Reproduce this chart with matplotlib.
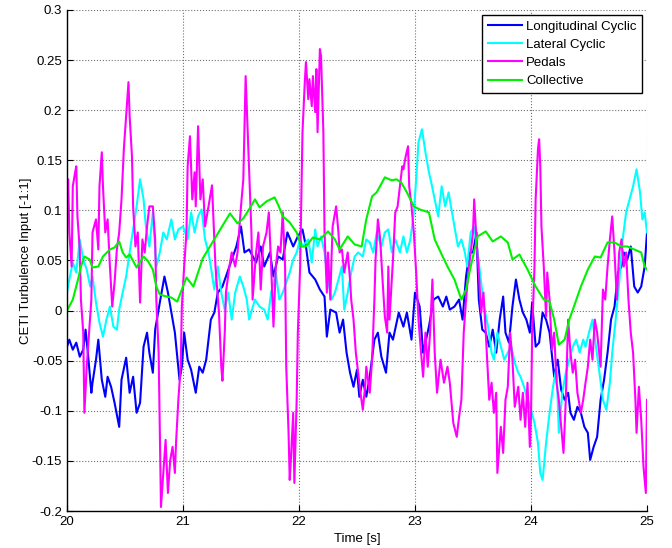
import numpy as np
import matplotlib
matplotlib.use('Agg')
import matplotlib.pyplot as plt
from matplotlib.ticker import FormatStrFormatter

plt.rcParams['font.family'] = ['Liberation Sans', 'DejaVu Sans']
plt.rcParams['font.size'] = 9.5

# Longitudinal cyclic (blue)
lon_t = [20.00, 20.02, 20.05, 20.08, 20.11, 20.14, 20.16, 20.18, 20.21, 20.22,
         20.25, 20.27, 20.30, 20.33, 20.35, 20.38, 20.41, 20.45, 20.47, 20.51,
         20.54, 20.57, 20.60, 20.63, 20.66, 20.69, 20.71, 20.74, 20.76, 20.80,
         20.84, 20.87, 20.90, 20.93, 20.97, 20.99, 21.01, 21.04, 21.07, 21.11,
         21.14, 21.17, 21.20, 21.24, 21.27, 21.30, 21.34, 21.37, 21.40, 21.46,
         21.50, 21.53, 21.57, 21.63, 21.67, 21.70, 21.75, 21.78, 21.82, 21.86,
         21.90, 21.95, 21.99, 22.03, 22.06, 22.09, 22.14, 22.18, 22.22, 22.24,
         22.27, 22.32, 22.35, 22.38, 22.41, 22.44, 22.47, 22.50, 22.52, 22.55,
         22.58, 22.61, 22.65, 22.68, 22.71, 22.75, 22.78, 22.81, 22.86, 22.90,
         22.93, 22.97, 23.00, 23.04, 23.07, 23.12, 23.16, 23.20, 23.24, 23.27,
         23.30, 23.34, 23.38, 23.41, 23.44, 23.47, 23.50, 23.53, 23.55, 23.58,
         23.61, 23.64, 23.67, 23.70, 23.73, 23.76, 23.78, 23.81, 23.84, 23.87,
         23.90, 23.93, 23.96, 23.99, 24.01, 24.04, 24.07, 24.10, 24.13, 24.16,
         24.20, 24.23, 24.26, 24.29, 24.32, 24.34, 24.37, 24.40, 24.43, 24.46,
         24.49, 24.51, 24.54, 24.57, 24.60, 24.63, 24.66, 24.69, 24.72, 24.75,
         24.78, 24.80, 24.83, 24.86, 24.89, 24.92, 24.95, 24.98, 25.00]
lon_v = [-0.036, -0.029, -0.039, -0.032, -0.046, -0.039, -0.019, -0.042, -0.082, -0.072,
         -0.049, -0.029, -0.069, -0.086, -0.066, -0.076, -0.092, -0.116, -0.069, -0.047,
         -0.082, -0.066, -0.102, -0.092, -0.036, -0.022, -0.042, -0.062, -0.019, 0.008,
         0.034, 0.018, -0.002, -0.022, -0.069, -0.056, -0.022, -0.049, -0.059, -0.082,
         -0.056, -0.062, -0.049, -0.009, -0.002, 0.018, 0.024, 0.034, 0.044, 0.064,
         0.084, 0.058, 0.061, 0.048, 0.064, 0.044, 0.058, 0.034, 0.054, 0.051,
         0.078, 0.064, 0.074, 0.081, 0.064, 0.038, 0.031, 0.021, 0.014, -0.026,
         0.001, -0.002, -0.022, -0.009, -0.042, -0.062, -0.076, -0.059, -0.086, -0.069,
         -0.086, -0.066, -0.029, -0.022, -0.046, -0.062, -0.022, -0.029, -0.002, -0.016,
         -0.002, -0.029, 0.018, 0.004, -0.042, -0.016, 0.011, 0.014, 0.004, 0.014,
         0.001, 0.004, 0.011, -0.009, 0.034, 0.058, 0.058, 0.078, 0.011, -0.019,
         -0.022, -0.036, -0.019, -0.042, -0.009, 0.014, -0.022, -0.032, 0.004, 0.031,
         0.011, -0.002, -0.009, -0.022, 0.008, -0.036, -0.032, -0.002, -0.009, -0.022,
         -0.066, -0.049, -0.079, -0.089, -0.082, -0.102, -0.109, -0.096, -0.102, -0.116,
         -0.122, -0.149, -0.136, -0.126, -0.089, -0.069, -0.042, -0.009, 0.004, 0.038,
         0.044, 0.058, 0.051, 0.064, 0.024, 0.018, 0.024, 0.044, 0.078]

# Lateral cyclic (cyan)
lat_t = [20.00, 20.02, 20.05, 20.08, 20.11, 20.14, 20.17, 20.20, 20.22, 20.25,
         20.28, 20.31, 20.34, 20.37, 20.40, 20.43, 20.45, 20.48, 20.51, 20.54,
         20.57, 20.60, 20.63, 20.66, 20.68, 20.71, 20.74, 20.77, 20.80, 20.83,
         20.86, 20.90, 20.93, 20.96, 21.00, 21.04, 21.07, 21.10, 21.13, 21.16,
         21.19, 21.22, 21.24, 21.27, 21.30, 21.33, 21.36, 21.39, 21.42, 21.45,
         21.49, 21.52, 21.55, 21.57, 21.62, 21.66, 21.70, 21.73, 21.76, 21.80,
         21.83, 21.86, 21.89, 21.92, 21.95, 21.98, 22.01, 22.03, 22.08, 22.11,
         22.14, 22.16, 22.19, 22.22, 22.25, 22.28, 22.31, 22.34, 22.37, 22.39,
         22.42, 22.45, 22.48, 22.51, 22.55, 22.58, 22.61, 22.64, 22.67, 22.71,
         22.74, 22.77, 22.80, 22.83, 22.87, 22.90, 22.93, 22.96, 22.99, 23.01,
         23.03, 23.06, 23.09, 23.12, 23.14, 23.17, 23.20, 23.23, 23.26, 23.29,
         23.31, 23.34, 23.37, 23.40, 23.43, 23.45, 23.48, 23.51, 23.54, 23.57,
         23.60, 23.63, 23.66, 23.68, 23.71, 23.74, 23.77, 23.80, 23.83, 23.86,
         23.89, 23.91, 23.94, 23.97, 24.00, 24.03, 24.06, 24.08, 24.10, 24.13,
         24.16, 24.19, 24.22, 24.24, 24.27, 24.30, 24.33, 24.36, 24.39, 24.42,
         24.45, 24.47, 24.50, 24.53, 24.56, 24.59, 24.62, 24.65, 24.68, 24.70,
         24.73, 24.76, 24.79, 24.82, 24.85, 24.88, 24.91, 24.94, 24.96, 24.98,
         25.00]
lat_v = [0.018, 0.031, 0.048, 0.038, 0.071, 0.051, 0.041, 0.024, 0.034, 0.008,
         -0.012, -0.026, -0.009, 0.004, -0.016, -0.019, 0.001, 0.018, 0.034, 0.058,
         0.081, 0.104, 0.131, 0.111, 0.084, 0.064, 0.098, 0.044, 0.058, 0.078,
         0.071, 0.091, 0.071, 0.081, 0.084, 0.071, 0.098, 0.078, 0.094, 0.101,
         0.071, 0.058, 0.044, 0.021, 0.044, 0.018, 0.001, 0.018, -0.009, 0.018,
         0.034, 0.024, 0.011, -0.009, 0.011, 0.004, 0.001, -0.009, 0.018, 0.038,
         0.011, 0.018, 0.028, 0.038, 0.051, 0.058, 0.071, 0.064, 0.071, 0.048,
         0.081, 0.064, 0.074, 0.058, 0.031, 0.011, 0.018, 0.031, 0.044, 0.001,
         0.018, 0.038, 0.054, 0.058, 0.054, 0.071, 0.068, 0.058, 0.078, 0.064,
         0.078, 0.081, 0.058, 0.071, 0.058, 0.074, 0.058, 0.071, 0.098, 0.131,
         0.168, 0.181, 0.158, 0.138, 0.128, 0.111, 0.094, 0.124, 0.104, 0.118,
         0.104, 0.084, 0.064, 0.071, 0.058, 0.044, 0.078, 0.084, 0.058, 0.028,
         0.001, -0.016, -0.042, -0.049, -0.022, -0.036, -0.049, -0.042, -0.036, -0.052,
         -0.062, -0.066, -0.076, -0.089, -0.099, -0.112, -0.132, -0.162, -0.169, -0.132,
         -0.102, -0.076, -0.056, -0.122, -0.082, -0.062, -0.049, -0.036, -0.029, -0.042,
         -0.029, -0.036, -0.022, -0.009, -0.036, -0.062, -0.089, -0.099, -0.072, -0.042,
         -0.009, 0.028, 0.071, 0.098, 0.111, 0.124, 0.141, 0.118, 0.091, 0.098,
         0.078]

# Pedals (magenta)
ped_t = [20.00, 20.01, 20.02, 20.04, 20.05, 20.07, 20.08, 20.09, 20.11, 20.12,
         20.14, 20.15, 20.17, 20.19, 20.21, 20.22, 20.25, 20.27, 20.28, 20.30,
         20.31, 20.33, 20.35, 20.37, 20.39, 20.41, 20.43, 20.45, 20.47, 20.49,
         20.51, 20.53, 20.54, 20.56, 20.57, 20.59, 20.61, 20.63, 20.65, 20.67,
         20.69, 20.71, 20.74, 20.76, 20.77, 20.79, 20.80, 20.81, 20.83, 20.85,
         20.87, 20.89, 20.91, 20.93, 20.94, 20.96, 20.98, 20.99, 21.01, 21.03,
         21.04, 21.06, 21.08, 21.10, 21.11, 21.13, 21.15, 21.17, 21.19, 21.22,
         21.25, 21.28, 21.31, 21.33, 21.34, 21.36, 21.37, 21.40, 21.42, 21.45,
         21.47, 21.50, 21.52, 21.54, 21.56, 21.57, 21.59, 21.60, 21.63, 21.65,
         21.67, 21.69, 21.72, 21.74, 21.76, 21.78, 21.80, 21.82, 21.84, 21.86,
         21.88, 21.89, 21.91, 21.92, 21.93, 21.95, 21.96, 21.98, 21.99, 22.01,
         22.02, 22.03, 22.05, 22.06, 22.08, 22.09, 22.11, 22.12, 22.14, 22.15,
         22.16, 22.18, 22.19, 22.21, 22.22, 22.24, 22.25, 22.27, 22.28, 22.29,
         22.32, 22.34, 22.35, 22.37, 22.39, 22.42, 22.44, 22.45, 22.47, 22.49,
         22.51, 22.53, 22.55, 22.57, 22.58, 22.61, 22.63, 22.65, 22.66, 22.68,
         22.70, 22.72, 22.74, 22.76, 22.77, 22.78, 22.81, 22.83, 22.85, 22.87,
         22.89, 22.90, 22.92, 22.94, 22.95, 22.97, 22.99, 23.01, 23.03, 23.05,
         23.07, 23.09, 23.11, 23.13, 23.15, 23.17, 23.19, 23.22, 23.25, 23.28,
         23.30, 23.33, 23.36, 23.38, 23.40, 23.42, 23.44, 23.46, 23.48, 23.50,
         23.51, 23.53, 23.55, 23.57, 23.59, 23.61, 23.64, 23.66, 23.68, 23.70,
         23.71, 23.74, 23.76, 23.78, 23.80, 23.82, 23.84, 23.86, 23.89, 23.91,
         23.93, 23.95, 23.97, 23.99, 24.00, 24.01, 24.03, 24.04, 24.06, 24.07,
         24.08, 24.09, 24.11, 24.13, 24.14, 24.16, 24.18, 24.20, 24.22, 24.24,
         24.26, 24.28, 24.30, 24.32, 24.34, 24.36, 24.38, 24.40, 24.43, 24.45,
         24.47, 24.49, 24.51, 24.53, 24.55, 24.57, 24.60, 24.62, 24.64, 24.66,
         24.68, 24.70, 24.72, 24.74, 24.76, 24.78, 24.80, 24.82, 24.84, 24.86,
         24.88, 24.90, 24.91, 24.93, 24.95, 24.97, 24.99, 25.00]
ped_v = [0.104, 0.131, 0.078, 0.044, 0.124, 0.138, 0.144, 0.094, 0.061, 0.011,
         -0.022, -0.102, -0.056, -0.022, 0.011, 0.078, 0.091, 0.061, 0.124, 0.158,
         0.124, 0.078, 0.091, 0.044, 0.004, 0.028, 0.061, 0.078, 0.111, 0.161,
         0.194, 0.228, 0.194, 0.154, 0.104, 0.064, 0.078, 0.008, 0.071, 0.058,
         0.084, 0.104, 0.104, 0.071, 0.011, -0.042, -0.122, -0.196, -0.162, -0.129,
         -0.182, -0.149, -0.136, -0.162, -0.132, -0.089, -0.056, 0.004, 0.044, 0.078,
         0.144, 0.174, 0.111, 0.138, 0.104, 0.184, 0.111, 0.131, 0.084, 0.104,
         0.125, 0.044, -0.002, -0.056, -0.070, -0.022, 0.018, 0.044, 0.058, 0.044,
         0.058, 0.104, 0.131, 0.234, 0.171, 0.138, 0.078, 0.011, 0.058, 0.078,
         0.021, 0.064, 0.078, 0.098, 0.044, -0.016, 0.044, 0.064, 0.058, 0.098,
         0.044, -0.056, -0.122, -0.169, -0.149, -0.102, -0.172, -0.089, -0.022, 0.044,
         0.111, 0.178, 0.228, 0.248, 0.211, 0.231, 0.204, 0.234, 0.198, 0.241,
         0.178, 0.261, 0.254, 0.178, 0.078, 0.018, 0.058, 0.011, 0.051, 0.084,
         0.104, 0.078, 0.058, 0.061, 0.038, 0.058, 0.031, 0.011, -0.009, -0.042,
         -0.062, -0.082, -0.099, -0.076, -0.056, -0.082, -0.049, 0.011, 0.051, 0.091,
         0.071, 0.031, -0.006, -0.022, 0.044, -0.009, 0.051, 0.098, 0.104, 0.124,
         0.144, 0.141, 0.154, 0.164, 0.124, 0.104, 0.078, 0.038, -0.009, -0.039,
         -0.066, -0.022, -0.056, -0.022, 0.031, -0.042, -0.082, -0.049, -0.072, -0.056,
         -0.072, -0.112, -0.126, -0.106, -0.089, -0.022, 0.011, 0.038, 0.058, 0.078,
         0.111, 0.071, 0.038, -0.002, 0.018, -0.022, -0.089, -0.072, -0.102, -0.082,
         -0.162, -0.116, -0.142, -0.089, -0.076, -0.022, -0.049, -0.096, -0.076, -0.109,
         -0.082, -0.116, -0.072, -0.136, -0.106, -0.022, 0.044, 0.111, 0.161, 0.171,
         0.144, 0.084, 0.044, -0.006, 0.038, 0.011, -0.039, -0.022, -0.072, -0.089,
         -0.116, -0.142, -0.089, -0.009, -0.042, -0.062, -0.049, -0.082, -0.102, -0.089,
         -0.072, -0.056, -0.029, -0.049, -0.009, -0.022, -0.056, 0.021, 0.011, 0.044,
         0.071, 0.094, 0.058, 0.011, 0.058, 0.071, 0.044, 0.058, 0.011, -0.022,
         -0.042, -0.089, -0.122, -0.076, -0.109, -0.156, -0.182, -0.089]

# Collective (green)
col_t = [20.00, 20.05, 20.095, 20.12, 20.15, 20.195, 20.22, 20.27, 20.31, 20.37,
         20.41, 20.45, 20.48, 20.51, 20.54, 20.60, 20.66, 20.70, 20.74, 20.77,
         20.80, 20.86, 20.90, 20.95, 21.03, 21.09, 21.17, 21.29, 21.405, 21.47,
         21.52, 21.57, 21.62, 21.66, 21.72, 21.79, 21.83, 21.86, 21.92, 21.98,
         22.02, 22.06, 22.12, 22.18, 22.25, 22.31, 22.35, 22.42, 22.48, 22.54,
         22.58, 22.63, 22.67, 22.74, 22.80, 22.84, 22.88, 22.93, 22.99, 23.04,
         23.12, 23.17, 23.23, 23.28, 23.34, 23.40, 23.44, 23.48, 23.54, 23.61,
         23.67, 23.74, 23.80, 23.84, 23.90, 23.97, 24.04, 24.11, 24.16, 24.20,
         24.24, 24.29, 24.33, 24.37, 24.43, 24.49, 24.55, 24.60, 24.66, 24.72,
         24.78, 24.83, 24.89, 24.95, 24.98, 25.00]
col_v = [0.000, 0.011, 0.031, 0.044, 0.054, 0.051, 0.043, 0.044, 0.054, 0.061,
         0.063, 0.069, 0.058, 0.053, 0.056, 0.043, 0.054, 0.049, 0.041, 0.024,
         0.016, 0.014, 0.013, 0.009, 0.033, 0.024, 0.052, 0.075, 0.097, 0.087,
         0.092, 0.101, 0.111, 0.103, 0.109, 0.113, 0.103, 0.094, 0.088, 0.078,
         0.064, 0.064, 0.073, 0.071, 0.079, 0.071, 0.061, 0.074, 0.066, 0.064,
         0.091, 0.114, 0.118, 0.133, 0.130, 0.131, 0.128, 0.118, 0.104, 0.101,
         0.098, 0.071, 0.056, 0.044, 0.031, 0.011, 0.021, 0.044, 0.074, 0.079,
         0.069, 0.074, 0.068, 0.051, 0.056, 0.041, 0.024, 0.011, 0.009, -0.009,
         -0.034, -0.029, -0.009, 0.004, 0.024, 0.041, 0.054, 0.053, 0.068, 0.068,
         0.064, 0.064, 0.061, 0.058, 0.044, 0.041]

fig = plt.figure(figsize=(6.72, 5.48), dpi=100)
ax = fig.add_axes([0.0997, 0.0675, 0.8631, 0.9143])

ax.plot(lon_t, lon_v, color=(0, 0, 1), lw=1.5, label='Longitudinal Cyclic')
ax.plot(lat_t, lat_v, color=(0, 1, 1), lw=1.5, label='Lateral Cyclic')
ax.plot(ped_t, ped_v, color=(1, 0, 1), lw=1.5, label='Pedals')
ax.plot(col_t, col_v, color=(0, 0.95, 0), lw=1.5, label='Collective')

ax.set_xlim(20, 25)
ax.set_ylim(-0.2, 0.3)
ax.set_xticks(np.arange(20, 25.5, 1))
ax.set_yticks(np.arange(-0.2, 0.301, 0.05))
ax.set_yticklabels(['-0.2', '-0.15', '-0.1', '-0.05', '0', '0.05', '0.1',
                    '0.15', '0.2', '0.25', '0.3'])
ax.xaxis.set_major_formatter(FormatStrFormatter('%d'))
ax.tick_params(direction='in', length=4, width=0.8, colors='black')
ax.grid(True, linestyle=':', color='#707070', linewidth=0.8)
ax.spines['top'].set_visible(False)
ax.spines['right'].set_visible(False)
for s in ['left', 'bottom']:
    ax.spines[s].set_linewidth(1.0)

ax.set_xlabel('Time [s]', labelpad=4)
ax.set_ylabel('CETI Turbulence Input [-1:1]', labelpad=0)

leg = ax.legend(loc='upper right', fancybox=False, edgecolor='black',
                framealpha=1, handlelength=2.6, borderpad=0.4,
                labelspacing=0.45, handletextpad=0.3, borderaxespad=0.4)
leg.get_frame().set_linewidth(1.0)

fig.savefig('out.png', dpi=100)
